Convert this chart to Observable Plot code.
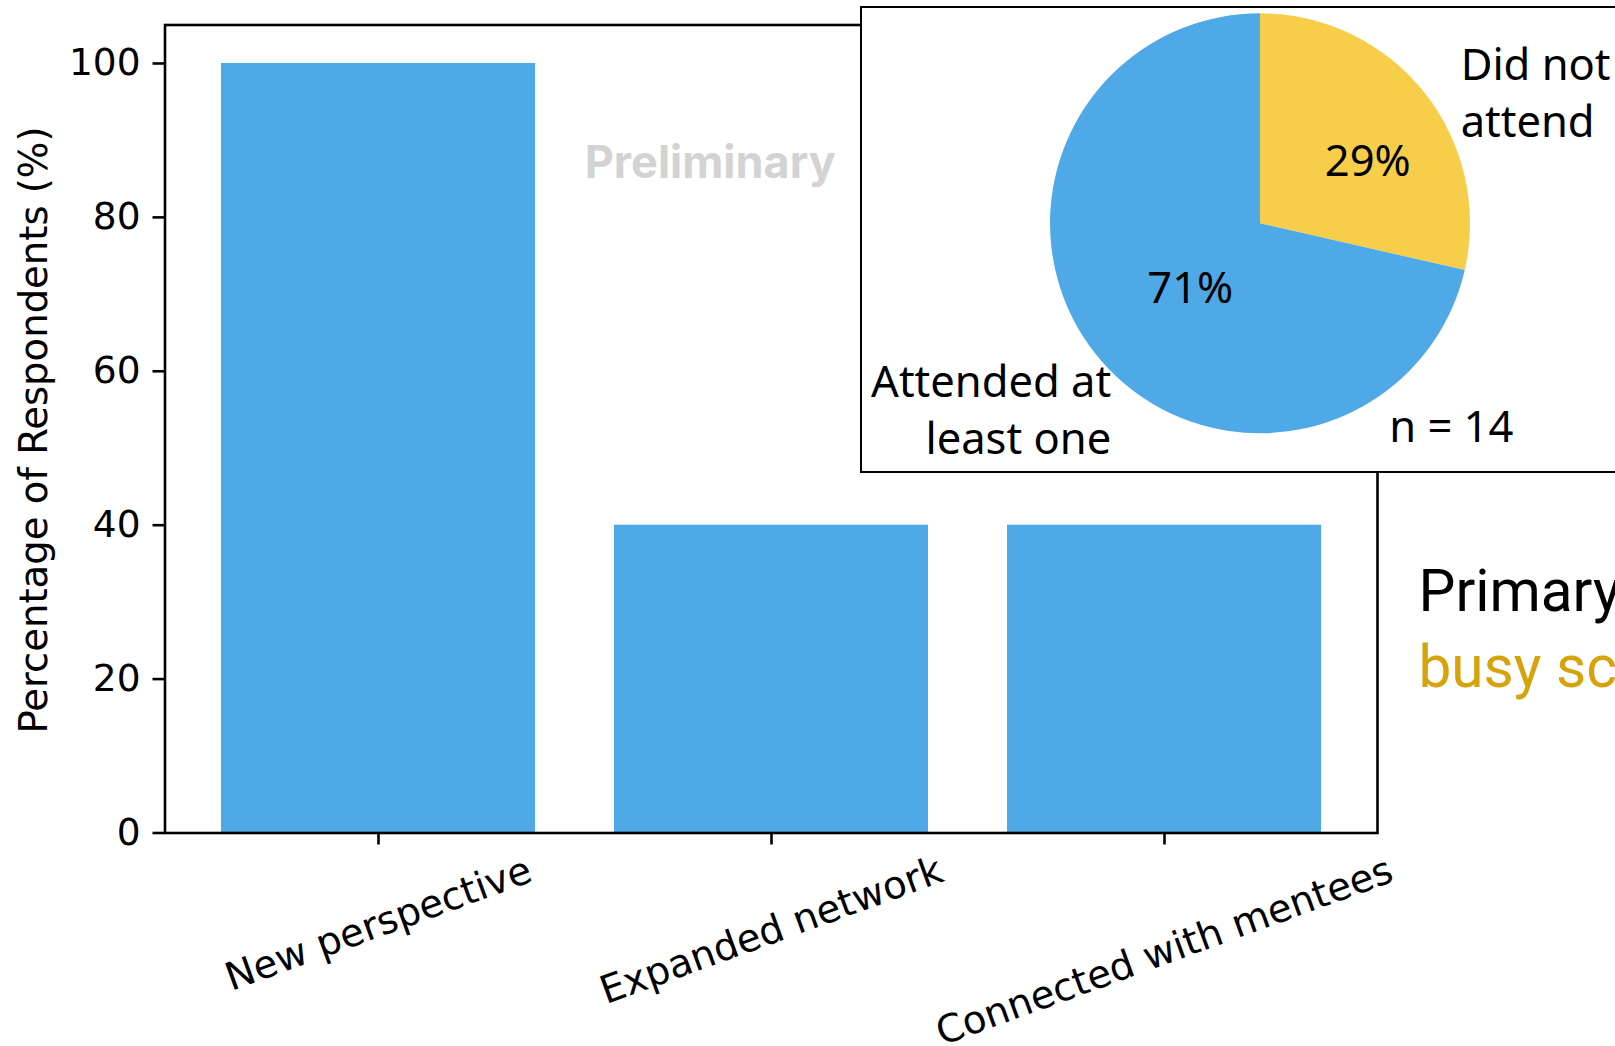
<!DOCTYPE html>
<html>
<head>
<meta charset="utf-8">
<script src="https://cdn.jsdelivr.net/npm/d3@7"></script>
<script src="https://cdn.jsdelivr.net/npm/@observablehq/plot@0.6"></script>
<style>
  html, body { margin: 0; padding: 0; background: #fff; width: 1615px; height: 1046px; overflow: hidden; }
  #stage { position: relative; width: 1615px; height: 1046px; overflow: hidden; }
  #bars { position: absolute; left: 0; top: 0; }
  #inset {
    position: absolute; left: 860px; top: 6px; width: 820px; height: 467px;
    box-sizing: border-box; border: 2px solid #000; background: #fff;
  }
  svg { overflow: visible; }
</style>
</head>
<body>
<div id="stage">
  <div id="bars"></div>
  <div id="inset"></div>
</div>
<script>
// Benefits reported by respondents (bar chart)
const categories = ["New perspective", "Expanded network", "Connected with mentees"];
const percentages = [100, 40, 40];
const yTicks = [0, 20, 40, 60, 80, 100];
const yLabel = "Percentage of Respondents (%)";

// Session attendance (pie inset)
const pieLabels = ["Did not\nattend", "Attended at\nleast one"];
const pieCounts = [4, 10];

// Side note text
const noteLines = ["Primary", "busy sc"];

const blue = "#4EA9E6";
const yellow = "#F7CE4A";
const gold = "#D5A30A";

// ---------- bar chart ----------
const W = 1615, H = 1046;
const marginTop = 24.5, marginRight = 238, marginBottom = 213.5, marginLeft = 164.5;
const tickFont = 37.5;
const labelFont = 38.6;
const axisFamily = "'DejaVu Sans', sans-serif";

const barData = categories.map((c, i) => ({category: c, value: percentages[i]}));

// rotated category labels: the rotated box's top edge sits just under the ticks
const ctx = document.createElement("canvas").getContext("2d");
ctx.font = `${labelFont}px 'DejaVu Sans'`;
const rad = 20 * Math.PI / 180;
const lineBox = 1.164 * labelFont;
const labelTop = 15;
function labelOffset(text) {
  const w = ctx.measureText(text).width;
  return labelTop + (w * Math.sin(rad) + lineBox * Math.cos(rad)) / 2;
}

const bars = Plot.plot({
  width: W,
  height: H,
  marginTop, marginRight, marginBottom, marginLeft,
  style: {fontFamily: axisFamily, background: "transparent", color: "#000"},
  x: {type: "band", domain: categories, paddingInner: 0.2, paddingOuter: 0.14},
  y: {domain: [0, 105]},
  marks: [
    Plot.barY(barData, {x: "category", y: "value", fill: blue}),
    Plot.frame({stroke: "#000", strokeWidth: 2.6}),
    Plot.axisY({ticks: yTicks, tickSize: 12, tickPadding: 12.5, strokeWidth: 2.6,
                fontSize: tickFont, label: null}),
    Plot.axisX({tickSize: 12, strokeWidth: 2.6, tickFormat: () => "", label: null}),
    ...categories.map(c => Plot.text([c], {
      x: d => d, text: d => d, frameAnchor: "bottom", dy: labelOffset(c),
      rotate: -20, textAnchor: "middle", lineAnchor: "middle", fontSize: labelFont
    })),
    Plot.text([yLabel], {
      text: d => d, frameAnchor: "left", dx: -130, dy: 1, rotate: -90,
      textAnchor: "middle", lineAnchor: "middle", fontSize: labelFont
    }),
    Plot.text(["Preliminary"], {
      text: d => d, frameAnchor: "top", dx: -61, dy: 153, lineAnchor: "bottom",
      textAnchor: "middle", fontFamily: "Inter, 'Noto Sans', sans-serif",
      fontWeight: 700, fontSize: 45, fill: "#D3D3D3"
    }),
    Plot.text([noteLines[0]], {
      text: d => d, frameAnchor: "top-right", dx: 41, dy: 586.2, lineAnchor: "bottom",
      textAnchor: "start", fontFamily: "Roboto, sans-serif", fontSize: 58.5, fill: "#000"
    }),
    Plot.text([noteLines[1]], {
      text: d => d, frameAnchor: "top-right", dx: 41, dy: 661.5, lineAnchor: "bottom",
      textAnchor: "start", fontFamily: "Roboto, sans-serif", fontSize: 58.5, fill: gold
    })
  ]
});
document.getElementById("bars").append(bars);

// ---------- pie inset ----------
const R = 210, cx = 398, cy = 215.3;   // pie centre and radius inside the box
const pieFont = 43.5;
const pieFamily = "'Noto Sans', 'Open Sans', sans-serif";
const pieColors = [yellow, blue];
const total = d3.sum(pieCounts);

const pieData = pieLabels.map((label, i) => ({label, count: pieCounts[i], share: pieCounts[i] / total}));
const arcs = d3.pie().sort(null).value(d => d.count)(pieData);

// percentage labels sit along each slice's mid-angle, about half-way out
const pctArc = d3.arc().innerRadius(0).outerRadius(2 * 0.55);
const pctData = arcs.map(a => {
  const [px, py] = pctArc.centroid(a);
  return {x: px, y: -py, text: d3.format(".0%")(a.data.share)};
});
const pctNudge = [[17, 10], [20, -7]];

function pieSlices(index, scales) {
  const x = scales.x, y = scales.y;
  const r = Math.abs(x(1) - x(0));
  const arc = d3.arc().innerRadius(0).outerRadius(r);
  const g = d3.create("svg:g").attr("transform", `translate(${x(0)},${y(0)})`);
  g.selectAll("path").data(arcs).join("path")
    .attr("d", arc)
    .attr("fill", (d, i) => pieColors[i]);
  return g.node();
}

const inset = Plot.plot({
  width: 816,
  height: 463,
  margin: 0,
  style: {fontFamily: pieFamily, background: "transparent", color: "#000"},
  x: {domain: [-1, 1], range: [cx - R, cx + R], axis: null},
  y: {domain: [-1, 1], range: [cy + R, cy - R], axis: null},
  marks: [
    pieSlices,
    ...pctData.map((d, i) => Plot.text([d], {
      x: "x", y: "y", text: "text", fontSize: pieFont, dx: pctNudge[i][0], dy: pctNudge[i][1],
      textAnchor: "middle", lineAnchor: "middle"
    })),
    Plot.text([pieData[0]], {x: () => 0.953, y: () => 0.875, text: "label",
                             textAnchor: "start", lineAnchor: "top", lineHeight: 1.3, fontSize: pieFont}),
    Plot.text([pieData[1]], {x: () => -0.711, y: () => -1.095, text: "label",
                             textAnchor: "end", lineAnchor: "bottom", lineHeight: 1.3, fontSize: pieFont}),
    Plot.text([`n = ${total}`], {x: () => 0.613, y: () => -1.04, text: d => d,
                                 textAnchor: "start", lineAnchor: "bottom", fontSize: pieFont})
  ]
});
document.getElementById("inset").append(inset);
</script>
</body>
</html>
